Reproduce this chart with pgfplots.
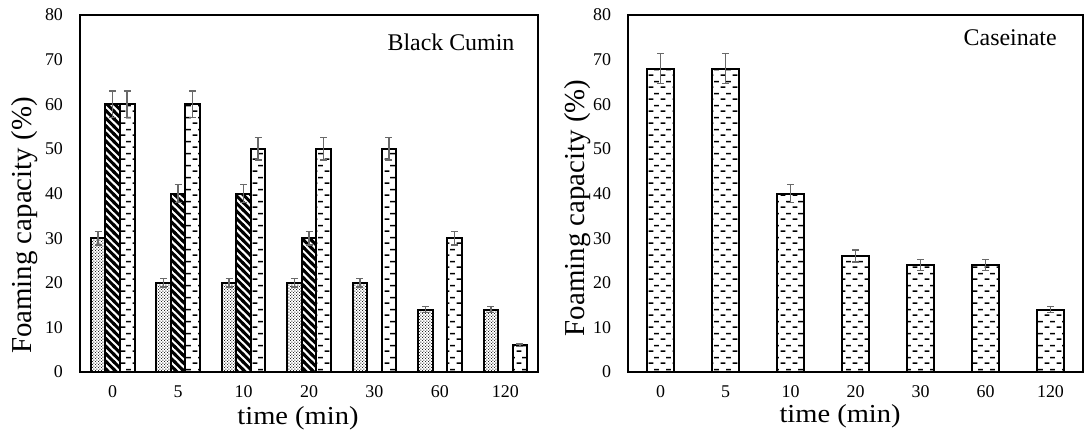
\documentclass[border=0pt]{standalone}
\usepackage{fontspec}
\setmainfont{Liberation Serif}
\usepackage{graphicx}
\usepackage{pgfplots}
\pgfplotsset{compat=1.18}
\usetikzlibrary{patterns}

\definecolor{errgray}{RGB}{105,105,105}

\pgfdeclarepatternformonly{mydots}{\pgfpointorigin}{\pgfpoint{1.6bp}{1.6bp}}{\pgfpoint{1.6bp}{1.6bp}}{%
  \pgfpathrectangle{\pgfpoint{0bp}{0bp}}{\pgfpoint{0.62bp}{0.62bp}}%
  \pgfpathrectangle{\pgfpoint{0.8bp}{0.8bp}}{\pgfpoint{0.62bp}{0.62bp}}%
  \pgfusepath{fill}}

\pgfdeclarepatternformonly{thicknw}{\pgfpoint{-1bp}{-1bp}}{\pgfpoint{4.8bp}{4.8bp}}{\pgfpoint{3.8bp}{3.8bp}}{%
  \pgfsetlinewidth{1.5bp}%
  \pgfpathmoveto{\pgfpoint{-0.5bp}{4.3bp}}%
  \pgfpathlineto{\pgfpoint{4.3bp}{-0.5bp}}%
  \pgfusepath{stroke}}

\pgfdeclarepatternformonly{mydashes}{\pgfpointorigin}{\pgfpoint{6bp}{6bp}}{\pgfpoint{6bp}{6bp}}{%
  \pgfsetlinewidth{0.8bp}%
  \pgfpathmoveto{\pgfpoint{0.3bp}{1.5bp}}\pgfpathlineto{\pgfpoint{2.9bp}{1.5bp}}%
  \pgfpathmoveto{\pgfpoint{3.3bp}{4.5bp}}\pgfpathlineto{\pgfpoint{5.9bp}{4.5bp}}%
  \pgfusepath{stroke}}

\pgfplotsset{
  mybase/.style={
    scale only axis,
    height=178.5bp,
    ymin=0, ymax=80, ytick={0,10,...,80},
    xmin=-0.5, xmax=6.5, xtick={0,...,6},
    xticklabels={0,5,10,20,30,60,120},
    major tick length=0pt,
    axis line style={line width=1bp},
    tick label style={font=\fontsize{9}{10}\selectfont},
    /pgf/number format/assume math mode=true,
    yticklabel style={xshift=-5bp},
    xticklabel style={yshift=-3.5bp},
    clip=false,
    ybar=0pt,
  },
  errs/.style={
    error bars/.cd,
      y dir=both, y explicit,
      error bar style={color=errgray, line width=0.75bp},
      error mark options={rotate=90, mark size=1.75bp, line width=0.75bp, errgray},
  },
}

\begin{document}
\begin{tikzpicture}
\path[use as bounding box] (0,0) rectangle (543bp,219bp);

% ---------------- Black Cumin ----------------
\begin{axis}[mybase, width=229bp, at={(40bp,33bp)}, anchor=south west, bar width=0.222]
\addplot[draw=black, line width=1bp, pattern=mydots, pattern color=black!85, errs]
  coordinates {(0,30) +- (0,1.5) (1,20) +- (0,1) (2,20) +- (0,1) (3,20) +- (0,1)
               (4,20) +- (0,1) (5,14) +- (0,0.7) (6,14) +- (0,0.7)};
\addplot[draw=black, line width=1bp, pattern=thicknw, pattern color=black, errs]
  coordinates {(0,60) +- (0,3) (1,40) +- (0,2) (2,40) +- (0,2) (3,30) +- (0,1.5)};
\addplot[draw=black, line width=1bp, pattern=mydashes, pattern color=black, errs]
  coordinates {(0,60) +- (0,3) (1,60) +- (0,3) (2,50) +- (0,2.5) (3,50) +- (0,2.5)
               (4,50) +- (0,2.5) (5,30) +- (0,1.5) (6,6) +- (0,0.3)};
\node[rotate=90, font=\fontsize{14.5}{17}\selectfont] at (axis description cs:-0.12,0.41) {Foaming capacity (\%)};
\node[font=\fontsize{13}{15}\selectfont] at (axis description cs:0.476,-0.13) {\scalebox{1.1}[1]{time (min)}};
\node[font=\fontsize{12}{14}\selectfont] at (axis description cs:0.81,0.924) {Black Cumin};
\end{axis}

% ---------------- Caseinate ----------------
\begin{axis}[mybase, width=227.5bp, at={(314bp,33bp)}, anchor=south west, bar width=0.41]
\addplot[draw=black, line width=1bp, pattern=mydashes, pattern color=black, errs]
  coordinates {(0,68) +- (0,3.4) (1,68) +- (0,3.4) (2,40) +- (0,2) (3,26) +- (0,1.3)
               (4,24) +- (0,1.2) (5,24) +- (0,1.2) (6,14) +- (0,0.7)};
\node[rotate=90, font=\fontsize{14.5}{17}\selectfont] at (axis description cs:-0.11,0.46) {Foaming capacity (\%)};
\node[font=\fontsize{13}{15}\selectfont] at (axis description cs:0.466,-0.124) {\scalebox{1.1}[1]{time (min)}};
\node[font=\fontsize{12}{14}\selectfont] at (axis description cs:0.84,0.936) {Caseinate};
\end{axis}
\end{tikzpicture}
\end{document}
